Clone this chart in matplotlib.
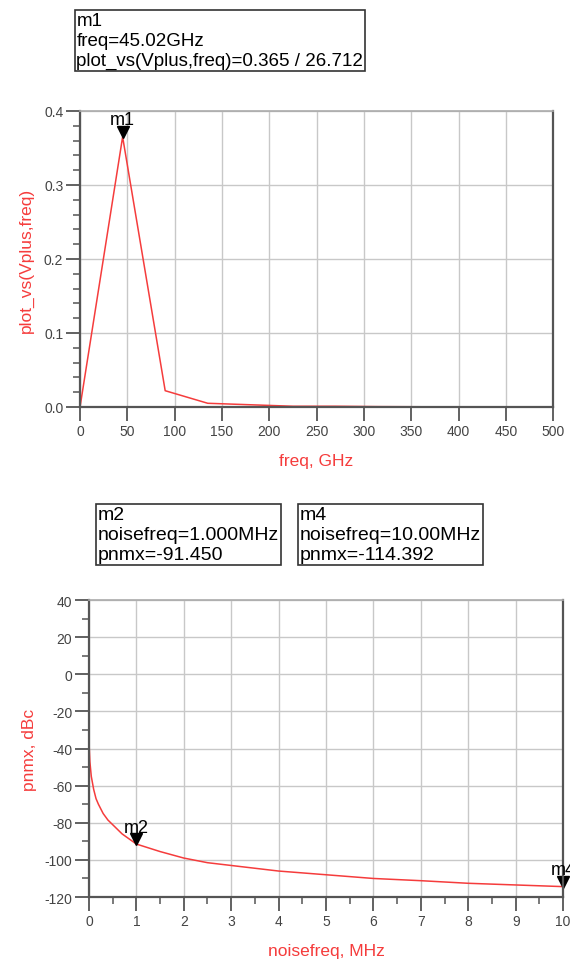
import matplotlib
matplotlib.use("Agg")
import matplotlib.pyplot as plt
from matplotlib.ticker import MultipleLocator, FormatStrFormatter

plt.rcParams['font.family'] = ['Liberation Sans', 'DejaVu Sans']
plt.rcParams['axes.unicode_minus'] = False

# top chart: plot_vs(Vplus, freq)
freq_ghz = [0, 45.02, 90, 135, 180, 225, 270, 315, 360, 405, 450]
vplus = [0.0, 0.365, 0.022, 0.005, 0.003, 0.001, 0.001, 0.0005, 0.0003, 0.0002, 0.0001]

# bottom chart: pnmx vs noisefreq
noisefreq_mhz = [0.001, 0.02, 0.05, 0.1, 0.15, 0.2, 0.3, 0.4, 0.5, 0.7, 1.0,
                 1.5, 2, 2.5, 3, 4, 5, 6, 7, 8, 9, 10]
pnmx = [-36, -47, -55, -62, -67, -70, -75, -78.5, -81, -86, -91.45,
        -95.5, -99, -101.5, -103, -106, -108, -110, -111.2, -112.6, -113.5, -114.392]

m1 = (45.02, 0.365)
m2 = (1.0, -91.45)
m4 = (10.0, -114.392)

red = '#f53c3c'
grid_c = '#c8c8c8'
spine_c = '#555555'
tick_c = '#444444'


def style_axes(ax):
    ax.grid(True, which='major', color=grid_c, linewidth=1.0)
    ax.set_axisbelow(True)
    for s in ['left', 'bottom', 'right']:
        ax.spines[s].set_color(spine_c)
        ax.spines[s].set_linewidth(1.6)
    ax.spines['top'].set_color('#aaaaaa')
    ax.spines['top'].set_linewidth(1.2)
    ax.tick_params(axis='both', which='major', direction='out', length=10,
                   width=1.3, color=spine_c, labelsize=10, labelcolor=tick_c, pad=2)
    ax.tick_params(axis='both', which='minor', direction='out', length=5,
                   width=1.1, color=spine_c)


def marker_box(fig, x, y, text, size=13.5):
    fig.text(x, y, text, fontsize=size, va='top', ha='left', linespacing=1.25,
             bbox=dict(boxstyle='square,pad=0.1', fc='white', ec='#333333', lw=1.2))


fig = plt.figure(figsize=(5.7, 9.62), dpi=100)

# --- top plot ---
ax1 = fig.add_axes([0.1404, 0.5759, 0.830, 0.3077])
ax1.plot(freq_ghz, vplus, color=red, lw=1.1, clip_on=False)
ax1.set_xlim(0, 500)
ax1.set_ylim(0, 0.4)
ax1.xaxis.set_major_locator(MultipleLocator(50))
ax1.yaxis.set_major_locator(MultipleLocator(0.1))
ax1.yaxis.set_minor_locator(MultipleLocator(0.02))
ax1.yaxis.set_major_formatter(FormatStrFormatter('%.1f'))
style_axes(ax1)
ax1.set_xlabel('freq, GHz', color=red, fontsize=12.5, labelpad=11)
ax1.set_ylabel('plot_vs(Vplus,freq)', color=red, fontsize=12.5, labelpad=7)
ax1.plot([m1[0]], [m1[1] + 0.007], marker='v', color='black', ms=8, clip_on=False)
ax1.text(m1[0], m1[1] + 0.012, 'm1', ha='center', va='bottom', fontsize=13)

marker_box(fig, 0.134, 0.987, 'm1\nfreq=45.02GHz\nplot_vs(Vplus,freq)=0.365 / 26.712')

# --- bottom plot ---
ax2 = fig.add_axes([0.156, 0.0665, 0.832, 0.3087])
ax2.plot(noisefreq_mhz, pnmx, color=red, lw=1.1, clip_on=False)
ax2.set_xlim(0, 10)
ax2.set_ylim(-120, 40)
ax2.xaxis.set_major_locator(MultipleLocator(1))
ax2.xaxis.set_minor_locator(MultipleLocator(0.5))
ax2.yaxis.set_major_locator(MultipleLocator(20))
ax2.yaxis.set_minor_locator(MultipleLocator(10))
style_axes(ax2)
ax2.set_xlabel('noisefreq, MHz', color=red, fontsize=12.5, labelpad=11)
ax2.set_ylabel('pnmx, dBc', color=red, fontsize=12.5, labelpad=5)
for (mx, my), name in [(m2, 'm2'), (m4, 'm4')]:
    ax2.plot([mx], [my + 2.6], marker='v', color='black', ms=8, clip_on=False)
    ax2.text(mx, my + 4.5, name, ha='center', va='bottom', fontsize=13, clip_on=False)

marker_box(fig, 0.172, 0.473, 'm2\nnoisefreq=1.000MHz\npnmx=-91.450', 14)
marker_box(fig, 0.526, 0.473, 'm4\nnoisefreq=10.00MHz\npnmx=-114.392', 14)

fig.savefig('out.png', dpi=100)
